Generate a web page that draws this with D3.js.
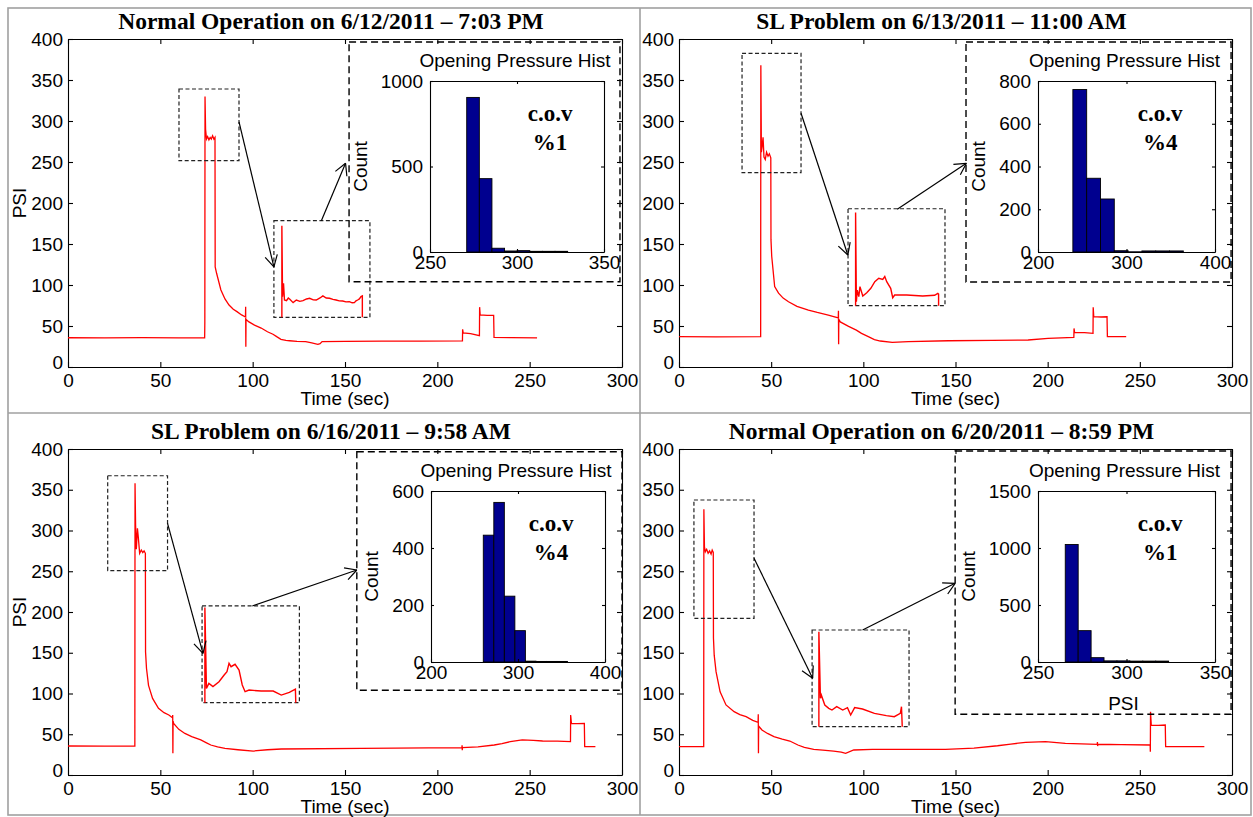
<!DOCTYPE html>
<html>
<head>
<meta charset="utf-8">
<script src="https://cdn.jsdelivr.net/npm/d3@7"></script>
<style>
  body { margin: 0; background: #fff; }
  svg text { font-family: "Liberation Sans", Arial, sans-serif; fill: #000; }
  .serif { font-family: "Liberation Serif", "Times New Roman", serif !important; font-weight: bold; }
</style>
</head>
<body>
<svg id="chart" width="1253" height="817"></svg>
<script>
// ---- data ----
var titles = [
  "Normal Operation  on 6/12/2011 \u2013 7:03 PM",
  "SL Problem on 6/13/2011 \u2013 11:00 AM",
  "SL Problem on 6/16/2011 \u2013 9:58 AM",
  "Normal Operation  on 6/20/2011 \u2013 8:59 PM"
];

var timeTicks = [0, 50, 100, 150, 200, 250, 300];
var psiTicks = [0, 50, 100, 150, 200, 250, 300, 350, 400];

// pressure traces [time (sec), PSI]
var signal1 = [[0,35.7],[20,35.5],[40,35.8],[60,35.5],[74.0,35.6],[74.1,55],[74.2,330],[74.5,290],[75,278],[75.6,281],[76.3,277],[77,280],[77.6,278],[78.3,282],[79,278],[79.6,280],[79.7,122],[80.5,114],[82.8,94],[85,83],[87.2,75.6],[89.5,70.5],[91.5,67.5],[94,63.5],[96.1,61],[96.2,73.5],[96.3,24.8],[96.4,58],[98,55],[101,51],[104.6,47.5],[108,43],[111,40],[113,37],[115.3,33.8],[118,32.5],[120,32],[124,31.2],[128.7,30.9],[132,29.5],[135.3,27.7],[136.5,28.5],[137.6,31],[150,31.2],[170,31.5],[190,31.6],[213.6,31.9],[213.7,46],[214,41.5],[218,40.8],[222.8,38.2],[222.9,73],[223.2,63.5],[227,63],[230.5,63],[230.7,36],[240,35.8],[254,35.6]];
var signal2 = [[0,37],[20,36.8],[44.3,37],[44.4,368],[44.7,262],[45.1,269],[45.6,280],[46.1,256],[46.8,253],[47.5,262],[48.3,257],[49,260],[49.8,255],[49.9,155],[50.3,135],[51.9,98],[54,90],[56.5,84],[59.4,79.6],[64,74],[70.2,69.5],[75,66.5],[81,63.4],[86.4,60],[86.5,68.7],[86.6,27.6],[86.7,58],[87.5,55],[92,49.5],[96.2,45],[99,41],[102.7,37],[106,33.5],[109.2,31.7],[115.7,30],[124.4,31],[146,32],[170,32.4],[189.4,32.9],[200.2,35],[214.2,36],[214.3,47],[214.6,42.3],[220,42],[224.6,41],[224.7,72.8],[225,61.3],[229,61],[232.2,61.3],[232.4,37],[242.6,37]];
var signal3 = [[0,35.6],[20,35.5],[36.2,35.6],[36.3,358],[36.6,306.7],[37.0,277],[37.6,302.7],[38.1,291],[38.8,272],[39.7,276],[40.5,273],[41.2,275],[41.9,272],[42.0,151],[42.5,131],[43.6,110],[45.8,94],[49,81.8],[52,76.5],[54.6,73.6],[56.6,70.3],[56.7,73.6],[56.8,26.6],[56.9,66],[57.2,63.4],[60,56],[63.3,51],[67,47],[71.9,43],[75,39.5],[77.3,36.8],[81,34.5],[85,32.7],[92,31],[100.3,29.4],[108,31],[115.5,31.9],[159,32.7],[213.3,33.5],[213.4,36.5],[213.5,30.5],[213.6,33.5],[222,34.5],[230.8,36.8],[235,38.5],[239.5,40.9],[246,43],[252,42.5],[257,41.7],[265,41.5],[272.1,40.9],[272.2,73.6],[272.6,63.4],[276,63],[279.6,63.4],[279.8,34.8],[285.6,34.8]];
var signal4 = [[0,34.8],[13.4,34.8],[13.5,326],[13.8,280],[14.3,274],[15,277],[15.8,272],[16.6,275],[17.4,271],[18,276],[18.6,273],[18.7,167.7],[19.1,147],[20.1,126.8],[22.3,102],[25.5,86],[29.9,77.7],[33,74],[36.4,71.6],[40,67],[42.9,64.6],[43.0,74.4],[43.1,26.6],[43.2,60],[45,55.2],[48,51],[51.5,47],[56,44],[60.1,41.7],[64.5,36.8],[68,34],[73.1,31.5],[78,30.5],[83.9,29.4],[88,28],[90.4,26.6],[94.8,30.7],[105,31.5],[122.9,31.5],[144.6,31.5],[160,33],[172.8,35.9],[180,38],[188,40],[198.8,40.9],[209.6,38.9],[226.9,37.7],[227,40.5],[227.1,35.5],[227.2,37.7],[240,37.3],[255.6,36.8],[255.7,28.6],[255.8,77.7],[256.2,61.3],[260,61],[263.8,61.3],[264,34.8],[285,34.8]];

// zoomed detail of the opening plateau, as fractions of the detail box [across, up]
var detail1 = [[.083,0],[.083,.948],[.09,.214],[.1,.352],[.11,.179],[.131,.172],[.15,.2],[.166,.186],[.2,.152],[.234,.179],[.27,.165],[.303,.172],[.34,.19],[.372,.197],[.41,.18],[.441,.179],[.48,.2],[.51,.221],[.545,.2],[.579,.197],[.615,.185],[.648,.179],[.68,.17],[.717,.169],[.75,.16],[.786,.162],[.815,.15],[.838,.152],[.855,.17],[.872,.179],[.89,.19],[.907,.214],[.921,.221],[.921,0]];
var detail2 = [[.078,0],[.078,.962],[.086,.04],[.095,.16],[.111,.093],[.123,.196],[.152,.1],[.193,.134],[.235,.179],[.276,.247],[.317,.282],[.358,.271],[.379,.3],[.399,.247],[.44,.179],[.461,.082],[.481,.11],[.605,.11],[.77,.1],[.893,.107],[.926,.127],[.934,.12],[.934,0]];
var detail3 = [[.029,0],[.029,.983],[.045,.148],[.07,.2],[.112,.166],[.174,.217],[.227,.286],[.256,.321],[.277,.407],[.298,.372],[.339,.397],[.38,.338],[.413,.183],[.442,.114],[.483,.131],[.607,.121],[.731,.121],[.814,.079],[.897,.107],[.959,.141],[.963,0]];
var detail4 = [[.07,0],[.07,.983],[.086,.293],[.095,.328],[.131,.224],[.172,.19],[.205,.172],[.254,.207],[.316,.172],[.365,.197],[.398,.121],[.439,.197],[.52,.183],[.643,.138],[.766,.114],[.848,.103],[.91,.138],[.922,.207],[.93,0]];

// opening pressure histograms
var histCounts1 = [904, 429, 22, 6, 8, 4, 4, 4];
var histCounts2 = [760, 345, 248, 6, 1, 5, 5, 5];
var histCounts3 = [445, 560, 231, 110, 3, 2, 2, 2];
var histCounts4 = [1031, 275, 38, 10, 10, 8, 8, 8];
var histStart = [271.1, 239.4, 260.1, 265.4];   // first bin edge (PSI)
var histBinWidth = [7.25, 15.6, 12.1, 7.3];
var histXDomains = [[250, 350], [200, 400], [200, 400], [250, 350]];
var histXTicks = [[250, 300, 350], [200, 300, 400], [200, 300, 400], [250, 300, 350]];
var histYDomains = [[0, 1000], [0, 800], [0, 600], [0, 1500]];
var histYTicks = [[0, 500, 1000], [0, 200, 400, 600, 800], [0, 200, 400, 600], [0, 500, 1000, 1500]];
var covLabels = ["%1", "%4", "%4", "%1"];

// ---- layout (pixels, and annotation shapes in axis units) ----
var layout = [
  { ax: {x: 68, y: 39, w: 554, h: 328}, psiLabel: true, histPsiLabel: false,
    boxA: [60.1, 92.6, 251.6, 339], boxB: [111.5, 163.5, 60.6, 178.4],
    arrow1: [92.6, 298.8, 111.5, 122], arrow2: [137.2, 178.4, 150.3, 248.4],
    histBox: [152.2, 298.9, 104, 396.3], hist: {x: 430, y: 81, w: 174, h: 171} },
  { ax: {x: 679, y: 39, w: 553, h: 328}, psiLabel: false, histPsiLabel: false,
    boxA: [34.2, 66.2, 237, 382.5], boxB: [91.7, 144.3, 74.8, 193],
    arrow1: [66.2, 309.4, 91.6, 136.6], arrow2: [118.4, 192.3, 155.9, 248.4],
    histBox: [155.7, 299.5, 103.7, 396.3], hist: {x: 1038, y: 81, w: 177, h: 171} },
  { ax: {x: 68, y: 449, w: 554, h: 326}, psiLabel: true, histPsiLabel: false,
    boxA: [21.5, 53.9, 250.7, 367.2], boxB: [72.6, 125.3, 88.7, 207.4],
    arrow1: [53.9, 308.8, 73.1, 149.3], arrow2: [99.8, 207.4, 156.4, 251.5],
    histBox: [156.4, 300, 103.9, 396.7], hist: {x: 431, y: 491, w: 174, h: 171} },
  { ax: {x: 679, y: 449, w: 553, h: 326}, psiLabel: false, histPsiLabel: true,
    boxA: [8.1, 40.7, 192.3, 337.4], boxB: [72.2, 124.8, 59.3, 177.9],
    arrow1: [40.7, 265.9, 72.5, 118.6], arrow2: [99.6, 177.9, 149.8, 235.2],
    histBox: [149.8, 299.5, 74.5, 397.5], hist: {x: 1038, y: 491, w: 177, h: 171} }
];

var signals = [signal1, signal2, signal3, signal4];
var details = [detail1, detail2, detail3, detail4];
var histCounts = [histCounts1, histCounts2, histCounts3, histCounts4];

var svg = d3.select("#chart");

// grey frame around the four panels
var frame = svg.append("g").attr("stroke", "#a0a0a0").attr("stroke-width", 1.6).attr("fill", "none");
frame.append("rect").attr("x", 8).attr("y", 8).attr("width", 1243).attr("height", 807);
frame.append("line").attr("x1", 640).attr("x2", 640).attr("y1", 8).attr("y2", 815);
frame.append("line").attr("x1", 8).attr("x2", 1251).attr("y1", 413).attr("y2", 413);

// draws an open "V" arrow between two points
function drawArrow(g, x1, y1, x2, y2) {
  var ang = Math.atan2(y2 - y1, x2 - x1);
  var len = 13, spread = 0.5;
  g.append("line").attr("x1", x1).attr("y1", y1).attr("x2", x2).attr("y2", y2);
  [-spread, spread].forEach(function (s) {
    g.append("line")
      .attr("x1", x2).attr("y1", y2)
      .attr("x2", x2 - len * Math.cos(ang + s))
      .attr("y2", y2 - len * Math.sin(ang + s));
  });
}

// MATLAB-like boxed axes with inward ticks on all sides
function boxAxes(g, x, y, w, h, xTicks, yTicks, tick, pad) {
  var fmt = d3.format("d");
  g.append("g").attr("transform", "translate(0," + h + ")")
    .call(d3.axisBottom(x).tickValues(xTicks).tickFormat(fmt).tickSize(-tick).tickSizeOuter(0).tickPadding(pad.x));
  g.append("g")
    .call(d3.axisLeft(y).tickValues(yTicks).tickFormat(fmt).tickSize(-tick).tickSizeOuter(0).tickPadding(pad.y));
  g.append("g")
    .call(d3.axisTop(x).tickValues(xTicks).tickSize(-tick).tickSizeOuter(0).tickFormat(""));
  g.append("g").attr("transform", "translate(" + w + ",0)")
    .call(d3.axisRight(y).tickValues(yTicks).tickSize(-tick).tickSizeOuter(0).tickFormat(""));
  g.selectAll(".domain, .tick line").attr("stroke", "#000").attr("stroke-width", 1.1);
  g.selectAll(".tick text").attr("font-size", "19px")
    .attr("font-family", '"Liberation Sans", Arial, sans-serif').attr("fill", "#000");
}

layout.forEach(function (L, i) {
  var a = L.ax;
  var x = d3.scaleLinear().domain([0, 300]).range([a.x, a.x + a.w]);
  var y = d3.scaleLinear().domain([0, 400]).range([a.y + a.h, a.y]);
  var panel = svg.append("g");

  // title
  panel.append("text").attr("class", "serif")
    .attr("x", a.x + a.w / 2 - 14).attr("y", a.y - 10)
    .attr("text-anchor", "middle").attr("font-size", "23.5px")
    .text(titles[i]);

  // main axes
  var axG = panel.append("g").attr("transform", "translate(" + a.x + "," + a.y + ")");
  var xl = d3.scaleLinear().domain([0, 300]).range([0, a.w]);
  var yl = d3.scaleLinear().domain([0, 400]).range([a.h, 0]);
  boxAxes(axG, xl, yl, a.w, a.h, timeTicks, psiTicks, 5, {x: 7, y: 5});
  // MATLAB lifts the y-axis "0" a little off the corner
  axG.selectAll("g .tick text").filter(function (d) { return d === 0 && this.getAttribute("x") !== null && +this.getAttribute("x") < 0; })
    .attr("dy", "0.1em");

  panel.append("text").attr("x", a.x + a.w / 2).attr("y", a.y + a.h + 31)
    .attr("dy", "0.35em").attr("text-anchor", "middle").attr("font-size", "19px")
    .text("Time (sec)");
  if (L.psiLabel) {
    panel.append("text")
      .attr("transform", "translate(19," + (a.y + a.h / 2) + ") rotate(-90)")
      .attr("dy", "0.35em").attr("text-anchor", "middle").attr("font-size", "19px")
      .text("PSI");
  }

  // pressure trace
  var line = d3.line().x(function (d) { return x(d[0]); }).y(function (d) { return y(d[1]); });
  panel.append("path").datum(signals[i])
    .attr("d", line).attr("fill", "none").attr("stroke", "#ff0000").attr("stroke-width", 1.3);

  // dashed zoom boxes
  var ann = panel.append("g").attr("fill", "none").attr("stroke", "#000");
  [L.boxA, L.boxB].forEach(function (b) {
    ann.append("rect")
      .attr("x", x(b[0])).attr("y", y(b[3]))
      .attr("width", x(b[1]) - x(b[0])).attr("height", y(b[2]) - y(b[3]))
      .attr("stroke", "#222").attr("stroke-width", 1.2).attr("stroke-dasharray", "4,2.5");
  });

  // zoomed detail trace inside box B
  var bB = L.boxB;
  var du = d3.scaleLinear().domain([0, 1]).range([x(bB[0]), x(bB[1])]);
  var dv = d3.scaleLinear().domain([0, 1]).range([y(bB[2]), y(bB[3])]);
  panel.append("path").datum(details[i])
    .attr("d", d3.line().x(function (d) { return du(d[0]); }).y(function (d) { return dv(d[1]); }))
    .attr("fill", "none").attr("stroke", "#ff0000").attr("stroke-width", 1.4);

  // arrows
  var arr = panel.append("g").attr("stroke", "#000").attr("stroke-width", 1.2);
  [L.arrow1, L.arrow2].forEach(function (r) {
    drawArrow(arr, x(r[0]), y(r[1]), x(r[2]), y(r[3]));
  });

  // dashed frame of the histogram inset
  var hb = L.histBox;
  ann.append("rect")
    .attr("x", x(hb[0])).attr("y", y(hb[3]))
    .attr("width", x(hb[1]) - x(hb[0])).attr("height", y(hb[2]) - y(hb[3]))
    .attr("stroke-width", 1.4).attr("stroke-dasharray", "7,4");

  // histogram
  var h = L.hist;
  var hx = d3.scaleLinear().domain(histXDomains[i]).range([0, h.w]);
  var hy = d3.scaleLinear().domain(histYDomains[i]).range([h.h, 0]);
  var hg = panel.append("g").attr("transform", "translate(" + h.x + "," + h.y + ")");
  hg.selectAll("rect.bar").data(histCounts[i]).enter().append("rect")
    .attr("class", "bar")
    .attr("x", function (d, k) { return hx(histStart[i] + k * histBinWidth[i]); })
    .attr("width", function (d, k) {
      return hx(histStart[i] + (k + 1) * histBinWidth[i]) - hx(histStart[i] + k * histBinWidth[i]);
    })
    .attr("y", function (d) { return hy(d); })
    .attr("height", function (d) { return h.h - hy(d); })
    .attr("fill", "#00008f").attr("stroke", "#000").attr("stroke-width", 0.9);
  boxAxes(hg, hx, hy, h.w, h.h, histXTicks[i], histYTicks[i], 3, {x: 3, y: 7});

  hg.append("text").attr("x", h.w / 2 - 2).attr("y", -21).attr("dy", "0.35em")
    .attr("text-anchor", "middle").attr("font-size", "19px").text("Opening Pressure Hist");
  var digits = String(d3.max(histYTicks[i])).length;
  hg.append("text")
    .attr("transform", "translate(" + (-(28 + 10.4 * digits)) + "," + (h.h / 2) + ") rotate(-90)")
    .attr("dy", "0.35em").attr("text-anchor", "middle").attr("font-size", "19px").text("Count");
  hg.append("text").attr("class", "serif").attr("x", h.w * 0.69).attr("y", 32).attr("dy", "0.35em")
    .attr("text-anchor", "middle").attr("font-size", "23px").text("c.o.v");
  hg.append("text").attr("class", "serif").attr("x", h.w * 0.69).attr("y", 61).attr("dy", "0.35em")
    .attr("text-anchor", "middle").attr("font-size", "23px").text(covLabels[i]);
  if (L.histPsiLabel) {
    hg.append("text").attr("x", h.w / 2 - 3).attr("y", h.h + 41).attr("dy", "0.35em")
      .attr("text-anchor", "middle").attr("font-size", "19px").text("PSI");
  }
});
</script>
</body>
</html>
